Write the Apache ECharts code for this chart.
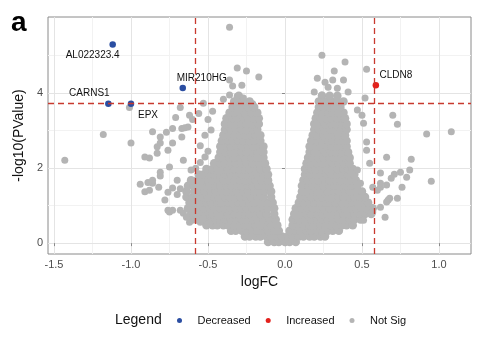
<!DOCTYPE html>
<html>
<head>
<meta charset="utf-8">
<script src="https://cdn.jsdelivr.net/npm/echarts@6/dist/echarts.min.js"></script>
<style>html,body{margin:0;padding:0;background:#fff}#c{width:477px;height:337px}</style>
</head>
<body>
<div id="c"></div>
<script>
// ---- data ----
const xTicks = [-1.5, -1, -0.5, 0, 0.5, 1];
const yTicks = [0, 2, 4];
const xMinor = [-1.25, -0.75, -0.25, 0.25, 0.75];
const yMinor = [1, 3, 5];
const fcCut = 0.585;
const pCut = 3.72;
const legendNames = ['Decreased', 'Increased', 'Not Sig'];

// labelled genes: [logFC, -log10(P), name]
const decreased = [
  [-1.119, 5.30, 'AL022323.4'],
  [-1.147, 3.72, 'CARNS1'],
  [-1.000, 3.72, 'EPX'],
  [-0.664, 4.14, 'MIR210HG']
];
const increased = [
  [0.59, 4.21, 'CLDN8']
];

// dense cloud, by row: [ -log10(P), [logFC values] ]
const notSigRows = [
  [0.03, [-0.11,-0.07,-0.04,0.00,0.03,0.07]],
  [0.18, [-0.26,-0.23,-0.19,-0.16,-0.12,-0.09,-0.05,-0.02,0.02,0.05,0.09,0.12,0.16,0.19,0.23,0.26]],
  [0.33, [-0.35,-0.32,-0.28,-0.25,-0.21,-0.18,-0.14,-0.11,-0.07,-0.04,0.03,0.07,0.10,0.14,0.17,0.21,0.24,0.28,0.31,0.35]],
  [0.48, [-0.51,-0.47,-0.44,-0.40,-0.37,-0.33,-0.30,-0.26,-0.23,-0.19,-0.16,-0.12,-0.09,-0.05,0.05,0.09,0.12,0.16,0.19,0.23,0.26,0.30,0.33,0.37,0.40,0.44]],
  [0.63, [-0.60,-0.56,-0.53,-0.49,-0.46,-0.42,-0.39,-0.35,-0.32,-0.28,-0.25,-0.21,-0.18,-0.14,-0.10,-0.06,0.05,0.09,0.13,0.17,0.21,0.24,0.28,0.31,0.35,0.38,0.42,0.45,0.49]],
  [0.78, [-0.61,-0.58,-0.54,-0.51,-0.47,-0.44,-0.40,-0.37,-0.33,-0.30,-0.26,-0.23,-0.19,-0.16,-0.12,-0.07,0.06,0.10,0.14,0.17,0.21,0.24,0.28,0.31,0.35,0.38,0.42,0.45,0.49,0.52,0.56]],
  [0.93, [-0.63,-0.60,-0.56,-0.53,-0.49,-0.46,-0.42,-0.39,-0.35,-0.32,-0.28,-0.25,-0.21,-0.18,-0.14,-0.11,-0.07,0.07,0.11,0.15,0.18,0.22,0.25,0.29,0.32,0.36,0.39,0.43,0.46,0.50,0.53,0.57]],
  [1.08, [-0.62,-0.58,-0.55,-0.51,-0.48,-0.44,-0.41,-0.37,-0.34,-0.30,-0.27,-0.23,-0.20,-0.16,-0.12,-0.08,0.09,0.12,0.16,0.19,0.23,0.26,0.30,0.33,0.37,0.40,0.44,0.47,0.51,0.54]],
  [1.23, [-0.64,-0.60,-0.57,-0.53,-0.50,-0.46,-0.43,-0.39,-0.36,-0.32,-0.29,-0.25,-0.22,-0.18,-0.14,-0.09,0.10,0.14,0.17,0.21,0.24,0.28,0.31,0.35,0.38,0.42,0.45,0.49,0.52]],
  [1.38, [-0.64,-0.59,-0.55,-0.52,-0.48,-0.45,-0.41,-0.38,-0.34,-0.31,-0.27,-0.24,-0.20,-0.17,-0.13,-0.09,0.11,0.14,0.18,0.21,0.25,0.28,0.32,0.35,0.39,0.42,0.46,0.50]],
  [1.53, [-0.63,-0.59,-0.56,-0.52,-0.49,-0.45,-0.42,-0.38,-0.35,-0.31,-0.28,-0.24,-0.21,-0.17,-0.14,-0.10,0.11,0.15,0.18,0.22,0.25,0.29,0.32,0.36,0.39,0.43,0.47]],
  [1.68, [-0.61,-0.57,-0.54,-0.50,-0.47,-0.43,-0.40,-0.36,-0.33,-0.29,-0.26,-0.22,-0.19,-0.15,-0.11,0.12,0.15,0.19,0.22,0.26,0.29,0.33,0.36,0.40,0.43,0.46]],
  [1.83, [-0.56,-0.53,-0.49,-0.46,-0.42,-0.39,-0.35,-0.32,-0.28,-0.25,-0.21,-0.18,-0.14,-0.11,0.13,0.16,0.20,0.23,0.27,0.30,0.34,0.37,0.41,0.45]],
  [1.98, [-0.51,-0.47,-0.44,-0.40,-0.37,-0.33,-0.30,-0.26,-0.23,-0.19,-0.16,-0.12,0.13,0.17,0.20,0.24,0.27,0.31,0.34,0.38,0.41,0.44]],
  [2.13, [-0.46,-0.42,-0.39,-0.35,-0.32,-0.28,-0.25,-0.21,-0.17,-0.13,0.14,0.17,0.21,0.24,0.28,0.31,0.35,0.38,0.42]],
  [2.28, [-0.43,-0.40,-0.36,-0.33,-0.29,-0.26,-0.22,-0.18,-0.14,0.15,0.18,0.22,0.25,0.29,0.32,0.36,0.39,0.42]],
  [2.43, [-0.42,-0.39,-0.35,-0.32,-0.28,-0.25,-0.21,-0.18,-0.14,0.16,0.19,0.23,0.26,0.30,0.33,0.37,0.41]],
  [2.58, [-0.42,-0.38,-0.35,-0.31,-0.28,-0.24,-0.21,-0.17,-0.14,0.16,0.20,0.23,0.27,0.30,0.34,0.37,0.40]],
  [2.73, [-0.41,-0.37,-0.34,-0.30,-0.27,-0.23,-0.20,-0.16,0.17,0.21,0.24,0.28,0.31,0.35,0.38,0.40]],
  [2.88, [-0.40,-0.36,-0.33,-0.29,-0.26,-0.22,-0.19,-0.16,0.18,0.21,0.25,0.28,0.32,0.35,0.39]],
  [3.03, [-0.39,-0.35,-0.32,-0.28,-0.25,-0.21,-0.18,0.19,0.22,0.26,0.29,0.33,0.36,0.40]],
  [3.18, [-0.39,-0.35,-0.32,-0.28,-0.25,-0.21,-0.17,0.19,0.23,0.26,0.30,0.33,0.37,0.40]],
  [3.33, [-0.38,-0.34,-0.31,-0.27,-0.24,-0.20,-0.17,0.20,0.23,0.27,0.30,0.34,0.37,0.39]],
  [3.48, [-0.36,-0.33,-0.29,-0.26,-0.22,-0.18,0.21,0.24,0.28,0.31,0.35,0.38]],
  [3.63, [-0.34,-0.31,-0.27,-0.24,-0.20,0.22,0.25,0.29,0.32,0.36]],
  [3.78, [-0.33,-0.28,-0.23,0.22,0.26,0.30,0.34,0.38]],
  [3.93, [-0.30,0.24,0.29,0.34]]
];

// scattered non-significant genes: [logFC, -log10(P)]
const notSigScattered = [
  [-0.36,5.76],[-0.31,4.67],[-0.25,4.59],[-0.17,4.43],[-0.36,4.35],[-0.34,4.19],[-0.28,4.21],
  [-0.40,3.84],[-0.36,3.95],[-0.31,3.92],[-0.27,3.87],[-0.21,3.72],[-0.53,3.73],[-0.56,3.46],
  [-0.47,3.52],[-0.50,3.30],[-0.48,3.02],[-0.52,2.88],[-0.55,2.60],[-0.52,2.30],[-0.50,2.45],
  [-0.58,2.00],[-0.55,2.15],[-0.61,1.95],
  [-1.43,2.21],[-1.18,2.90],[-1.00,2.67],[-1.01,3.62],[-0.68,3.62],[-0.71,3.35],[-0.60,3.30],
  [-0.63,3.10],[-0.86,2.97],[-0.81,2.83],[-0.77,2.96],[-0.73,3.06],[-0.67,3.06],[-0.83,2.57],
  [-0.91,2.30],[-0.88,2.27],[-0.76,2.48],[-0.94,1.57],[-0.91,1.37],[-0.88,1.41],[-0.86,1.60],
  [-0.89,1.62],[-0.81,1.79],[-0.78,1.15],[-0.76,0.88],[-0.73,0.88],[-0.68,0.88],[-0.66,0.80],
  [-0.62,0.56],[-0.55,0.56],[-0.49,0.53],[-0.73,1.47],[-0.70,1.68],[-0.81,2.67],[-0.83,2.40],
  [-0.73,2.67],[-0.65,3.08],[-0.67,2.83],[-0.62,3.41],[-0.66,2.21],[-0.75,2.03],[-0.81,1.89],
  [-0.86,1.68],[-0.82,1.49],[-0.76,1.36],[-0.75,0.83],[-0.64,0.69],[-0.57,0.61],[-0.53,0.67],
  [-0.70,1.30],[-0.68,1.45],
  [0.24,5.01],[0.39,4.83],[0.32,4.59],[0.53,4.64],[0.21,4.40],[0.26,4.29],[0.31,4.35],[0.38,4.35],
  [0.28,4.16],[0.34,4.13],[0.41,4.03],[0.52,3.87],[0.47,3.55],[0.50,3.41],[0.19,4.03],[0.24,3.95],
  [0.70,3.41],[0.73,3.17],[0.92,2.91],[1.08,2.97],[0.66,2.29],[0.82,2.24],[0.53,2.70],[0.95,1.65],
  [0.79,1.76],[0.71,1.84],[0.75,1.89],[0.76,1.49],[0.67,1.15],[0.73,1.20],[0.65,0.69],[0.62,1.49],
  [0.62,1.60],[0.66,1.55],[0.68,1.20],[0.66,1.10],[0.60,1.41],[0.57,1.49],[0.62,0.96],[0.57,0.83],
  [0.51,0.61],[0.51,3.20],[0.53,2.48],[0.55,2.13],[0.62,1.87],[0.47,1.95],[0.49,1.60],[0.69,1.73],
  [0.81,1.95]
];

// ---- build ----
const notSig = [];
notSigRows.forEach(([y, xs]) => xs.forEach(x => notSig.push([x, y])));
const denseCount = notSig.length;
notSigScattered.forEach(p => notSig.push(p));

const labelOffsets = {
  'AL022323.4': [-20, 11],
  'CARNS1': [-19, -10],
  'MIR210HG': [19, -10],
  'EPX': [17, 12],
  'CLDN8': [20, -10]
};
function labelled(arr) {
  return arr.map(d => ({
    value: [d[0], d[1]],
    name: d[2],
    label: { show: true, position: 'inside', offset: labelOffsets[d[2]], formatter: d[2] }
  }));
}

const FONT = '"Liberation Sans", Arial, sans-serif';
const chart = echarts.init(document.getElementById('c'), null, { renderer: 'canvas' });
chart.setOption({
  animation: false,
  backgroundColor: '#ffffff',
  textStyle: { fontFamily: FONT },
  grid: { left: 48, right: 6, top: 17, bottom: 83, show: true, borderColor: '#8a8a8a', borderWidth: 1, backgroundColor: '#fff' },
  xAxis: {
    type: 'value', min: -1.539, max: 1.208,
    splitLine: { show: false },
    axisLine: { show: false },
    axisTick: { show: true, customValues: xTicks, length: 3, lineStyle: { color: '#8a8a8a' } },
    axisLabel: { customValues: xTicks, formatter: v => Number(v).toFixed(1), fontSize: 11, color: '#4d4d4d', margin: 5, fontFamily: FONT },
    name: 'logFC', nameLocation: 'middle', nameGap: 21,
    nameTextStyle: { fontSize: 14, color: '#111', fontFamily: FONT }
  },
  yAxis: {
    type: 'value', min: -0.29, max: 6.03,
    splitLine: { show: false },
    axisLine: { show: false },
    axisTick: { show: true, customValues: yTicks, length: 3, lineStyle: { color: '#8a8a8a' } },
    axisLabel: { customValues: yTicks, formatter: v => String(v), fontSize: 11, color: '#4d4d4d', margin: 5, fontFamily: FONT },
    name: '-log10(PValue)', nameLocation: 'middle', nameGap: 22,
    nameTextStyle: { fontSize: 14, color: '#111', fontFamily: FONT }
  },
  legend: {
    data: legendNames,
    left: 172, top: 310,
    icon: 'circle', itemWidth: 26, itemHeight: 5, itemGap: 15,
    textStyle: { fontSize: 11, color: '#111', fontFamily: FONT, padding: 0 },
    selectedMode: false
  },
  graphic: [
    { type: 'text', left: 115, top: 313, style: { text: 'Legend', fontSize: 14, fill: '#111', fontFamily: FONT } },
    { type: 'text', left: 11, top: 9, style: { text: 'a', fontSize: 28, fontWeight: 'bold', fill: '#000', fontFamily: FONT } }
  ],
  series: [
    {
      name: 'grid', type: 'scatter', data: [], silent: true, z: 0,
      markLine: {
        silent: true, z: 0, zlevel: 0, symbol: ['none', 'none'], label: { show: false }, animation: false,
        data: [
          ...xMinor.map(v => ({ xAxis: v, lineStyle: { color: '#f2f2f2', width: 1, type: 'solid' } })),
          ...yMinor.map(v => ({ yAxis: v, lineStyle: { color: '#f2f2f2', width: 1, type: 'solid' } })),
          ...xTicks.map(v => ({ xAxis: v, lineStyle: { color: '#e4e4e4', width: 1, type: 'solid' } })),
          ...yTicks.map(v => ({ yAxis: v, lineStyle: { color: '#e4e4e4', width: 1, type: 'solid' } }))
        ]
      }
    },
    {
      name: 'Not Sig', type: 'scatter', data: notSig, z: 2,
      symbolSize: (val, params) => (params.dataIndex < denseCount ? 8.5 : 7),
      itemStyle: { color: '#b4b4b4', opacity: 1 }
    },
    {
      name: 'Decreased', type: 'scatter', data: labelled(decreased), symbolSize: 6.5, z: 3,
      itemStyle: { color: '#2b4ea2', opacity: 1 },
      label: { fontSize: 10, color: '#111', fontFamily: FONT }
    },
    {
      name: 'Increased', type: 'scatter', data: labelled(increased), symbolSize: 6.5, z: 3,
      itemStyle: { color: '#e3211c', opacity: 1 },
      label: { fontSize: 10, color: '#111', fontFamily: FONT }
    },
    {
      name: 'cutoffs', type: 'scatter', data: [], silent: true, z: 5,
      markLine: {
        silent: true, z: 5, symbol: ['none', 'none'], label: { show: false }, animation: false,
        lineStyle: { color: '#c8392e', width: 1.3, type: [6, 4] },
        data: [ { xAxis: -fcCut }, { xAxis: fcCut }, { yAxis: pCut } ]
      }
    }
  ]
});
</script>
</body>
</html>
